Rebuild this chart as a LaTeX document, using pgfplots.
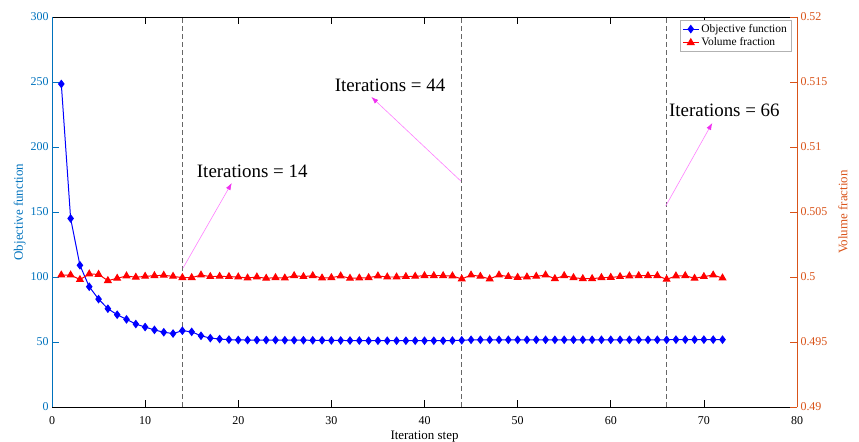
\documentclass[border=0pt]{standalone}
\usepackage{pgfplots}
\pgfplotsset{compat=1.18}
\usepackage{pgfplotstable}
\usetikzlibrary{arrows.meta}
\usepackage{fontspec}
\setmainfont{Liberation Serif}
\definecolor{mblue}{HTML}{0072BD}
\definecolor{morange}{HTML}{D95319}
\definecolor{arrowpink}{HTML}{FF7FFF}
\definecolor{arrowhead}{HTML}{F030F0}

\pgfplotstableread{
x y
1 248.5
2 145
3 109
4 92.5
5 83
6 75.6
7 71
8 67.4
9 63.8
10 61.5
11 59.3
12 57.5
13 56.5
14 58.7
15 57.8
16 54.8
17 53
18 52.3
19 51.8
20 51.6
21 51.5
22 51.5
23 51.5
24 51.5
25 51.4
26 51.4
27 51.4
28 51.3
29 51.3
30 51.2
31 51.2
32 51.1
33 51.1
34 51.0
35 51.0
36 51.0
37 51.0
38 51.0
39 51.0
40 51.0
41 51.0
42 51.0
43 51.1
44 51.3
45 51.7
46 51.7
47 51.7
48 51.7
49 51.7
50 51.7
51 51.7
52 51.7
53 51.7
54 51.7
55 51.7
56 51.7
57 51.7
58 51.7
59 51.7
60 51.7
61 51.7
62 51.7
63 51.7
64 51.7
65 51.7
66 51.7
67 51.8
68 51.8
69 51.8
70 51.8
71 51.8
72 51.8
}\objtable

\pgfplotstableread{
x v
1 0.50015
2 0.50015
3 0.49980
4 0.50023
5 0.50020
6 0.49972
7 0.49990
8 0.50008
9 0.49998
10 0.50005
11 0.50010
12 0.50013
13 0.50005
14 0.49995
15 0.49995
16 0.50015
17 0.50003
18 0.50005
19 0.50003
20 0.50000
21 0.49992
22 0.50000
23 0.49990
24 0.49995
25 0.49992
26 0.50010
27 0.50003
28 0.50010
29 0.49992
30 0.49995
31 0.50008
32 0.49990
33 0.49992
34 0.49995
35 0.50008
36 0.50000
37 0.50000
38 0.50003
39 0.50005
40 0.50010
41 0.50010
42 0.50010
43 0.50008
44 0.49985
45 0.50015
46 0.50005
47 0.49985
48 0.50015
49 0.50003
50 0.49997
51 0.50000
52 0.50005
53 0.50015
54 0.49987
55 0.50010
56 0.49995
57 0.49987
58 0.49987
59 0.49995
60 0.49997
61 0.50003
62 0.50008
63 0.50010
64 0.50010
65 0.50010
66 0.49982
67 0.50008
68 0.50010
69 0.49990
70 0.50003
71 0.50015
72 0.49992
}\voltable

\begin{document}
\begin{tikzpicture}
\pgfplotsset{
  every axis/.append style={
    scale only axis, width=745bp, height=390bp,
    xmin=0, xmax=80,
    tick align=inside,
    major tick length=7bp,
    /pgf/number format/assume math mode=true,
    ticklabel style={font=\fontsize{12}{14}\selectfont},
    label style={font=\fontsize{13}{15}\selectfont},
  }
}
\begin{axis}[
  name=ax1,
  ymin=0, ymax=300,
  axis y line*=left,
  xtick={0,10,...,80},
  ytick={0,50,...,300},
  y axis line style={mblue, line width=0.6pt},
  ytick style={mblue, line width=0.6pt},
  yticklabel style={mblue},
  xticklabel style={yshift=-6bp},
  xtick style={black, line width=0.6pt},
  x axis line style={black, line width=0.6pt},
  ylabel={Objective function},
  ylabel style={mblue, yshift=-2bp},
  xlabel={Iteration step},
  xlabel style={yshift=1bp},
  clip=false,
]
\addplot[gray!80!black, dashed, line width=0.8pt, dash pattern=on 5bp off 3bp, forget plot] coordinates {(14,0) (14,300)};
\addplot[gray!80!black, dashed, line width=0.8pt, dash pattern=on 5bp off 3bp, forget plot] coordinates {(44,0) (44,300)};
\addplot[gray!80!black, dashed, line width=0.8pt, dash pattern=on 5bp off 3bp, forget plot] coordinates {(66,0) (66,300)};
\addplot[blue, line width=1pt, mark=diamond*, mark size=3.6pt, mark options={fill=blue, draw=blue}] table[x=x, y=y] {\objtable};

\draw[arrowpink, line width=0.6pt, -{Latex[length=7bp,width=5bp,color=arrowhead]}] (axis cs:14.07,106.9) -- (axis cs:19.3,172.3);
\draw[arrowpink, line width=0.6pt, -{Latex[length=7bp,width=5bp,color=arrowhead]}] (axis cs:43.9,173.8) -- (axis cs:34.3,238.5);
\draw[arrowpink, line width=0.6pt, -{Latex[length=7bp,width=5bp,color=arrowhead]}] (axis cs:65.9,154.6) -- (axis cs:70.9,218.5);
\node[font=\fontsize{19}{22}\selectfont, anchor=center] at (axis cs:21.5,181.5) {Iterations = 14};
\node[font=\fontsize{19}{22}\selectfont, anchor=center] at (axis cs:36.3,247.5) {Iterations = 44};
\node[font=\fontsize{19}{22}\selectfont, anchor=center] at (axis cs:72.2,228.5) {Iterations = 66};
\end{axis}

\begin{axis}[
  ymin=0.49, ymax=0.52,
  axis y line*=right,
  axis x line=none,
  ytick={0.49,0.495,...,0.5201},
  yticklabel style={morange, /pgf/number format/fixed, /pgf/number format/precision=3},
  y axis line style={morange, line width=0.6pt},
  ytick style={morange, line width=0.6pt},
  ylabel={Volume fraction},
  ylabel style={morange, yshift=-4bp},
  legend style={at={(0.992,0.992)}, anchor=north east, draw=gray!60,
    font=\fontsize{11.5}{13}\selectfont, inner sep=2bp, row sep=0bp},
  legend cell align=left,
  legend image code/.code={\draw[mark repeat=2, mark phase=2, #1] plot coordinates {(0bp,0bp) (8bp,0bp) (16bp,0bp)};},
]
\addlegendimage{blue, line width=1pt, mark=diamond*, mark size=3.6pt, mark options={fill=blue, draw=blue}}
\addlegendentry{Objective function}
\addplot[red, line width=1pt, mark=triangle*, mark size=3.8pt, mark options={fill=red, draw=red}] table[x=x, y=v] {\voltable};
\addlegendentry{Volume fraction}
\end{axis}

\pgfresetboundingbox
\path[use as bounding box] ([shift={(-52bp,-35bp)}]ax1.south west) rectangle ([shift={(62bp,17bp)}]ax1.north east);
\end{tikzpicture}
\end{document}
